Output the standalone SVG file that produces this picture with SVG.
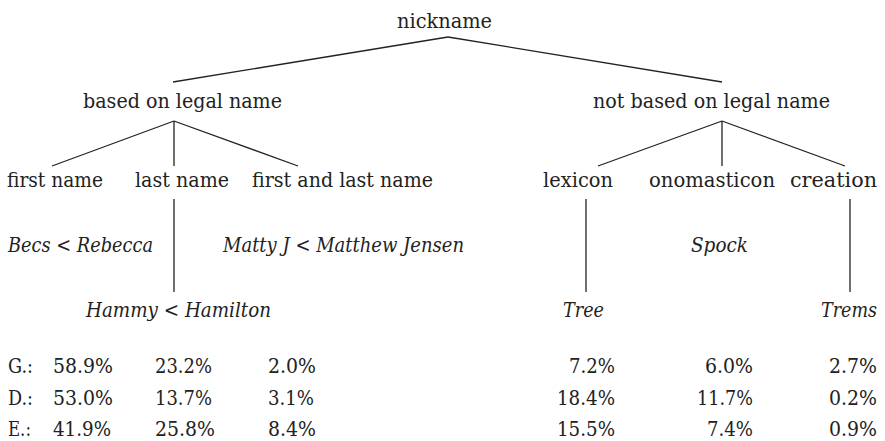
<svg xmlns="http://www.w3.org/2000/svg" width="885" height="441" viewBox="0 0 885 441">
<style>
text{font-family:"DejaVu Serif","Liberation Serif",serif;font-size:20px;fill:#222}
.c{text-anchor:middle}
.r{text-anchor:end}
.i{font-style:italic}
.ln line{stroke:#222;stroke-width:1.3;fill:none}
</style>
<rect width="885" height="441" fill="#fff"/>
<g class="ln" id="connectors">
<line x1="448" y1="37" x2="173" y2="82"/>
<line x1="448" y1="37" x2="722" y2="82"/>
<line x1="174" y1="121" x2="52" y2="166"/>
<line x1="174" y1="121" x2="174" y2="166"/>
<line x1="174" y1="121" x2="298" y2="166"/>
<line x1="722" y1="121" x2="598" y2="166"/>
<line x1="722" y1="121" x2="722" y2="166"/>
<line x1="722" y1="121" x2="845" y2="166"/>
<line x1="174" y1="199" x2="174" y2="292"/>
<line x1="586" y1="199" x2="586" y2="292"/>
<line x1="850" y1="199" x2="850" y2="292"/>
</g>
<g id="nickname"><text class="c" x="444.5" y="28" textLength="95" lengthAdjust="spacingAndGlyphs">nickname</text></g>
<g id="based"><text class="c" x="182.5" y="108" textLength="199" lengthAdjust="spacingAndGlyphs">based on legal name</text></g>
<g id="notbased"><text class="c" x="711.5" y="108" textLength="237" lengthAdjust="spacingAndGlyphs">not based on legal name</text></g>
<g id="firstname"><text class="c" x="55" y="187" textLength="96" lengthAdjust="spacingAndGlyphs">first name</text></g>
<g id="lastname"><text class="c" x="182" y="187" textLength="94" lengthAdjust="spacingAndGlyphs">last name</text></g>
<g id="firstlast"><text class="c" x="342.5" y="187" textLength="181" lengthAdjust="spacingAndGlyphs">first and last name</text></g>
<g id="lexicon"><text class="c" x="578" y="187" textLength="70" lengthAdjust="spacingAndGlyphs">lexicon</text></g>
<g id="onomasticon"><text class="c" x="712" y="187" textLength="126" lengthAdjust="spacingAndGlyphs">onomasticon</text></g>
<g id="creation"><text class="c" x="833.5" y="187" textLength="87" lengthAdjust="spacingAndGlyphs">creation</text></g>
<g id="ex-becs"><text class="i" x="8" y="252" textLength="145" lengthAdjust="spacingAndGlyphs">Becs &lt; Rebecca</text></g>
<g id="ex-matty"><text class="i" x="223" y="252" textLength="241" lengthAdjust="spacingAndGlyphs">Matty J &lt; Matthew Jensen</text></g>
<g id="ex-spock"><text class="i c" x="719.5" y="252" textLength="57" lengthAdjust="spacingAndGlyphs">Spock</text></g>
<g id="ex-hammy"><text class="i c" x="178.5" y="317" textLength="185" lengthAdjust="spacingAndGlyphs">Hammy &lt; Hamilton</text></g>
<g id="ex-tree"><text class="i c" x="583.5" y="317" textLength="41" lengthAdjust="spacingAndGlyphs">Tree</text></g>
<g id="ex-trems"><text class="i c" x="849" y="317" textLength="56" lengthAdjust="spacingAndGlyphs">Trems</text></g>
<g id="stats">
<text x="8" y="373" textLength="25" lengthAdjust="spacingAndGlyphs">G.:</text>
<text x="53" y="373" textLength="60" lengthAdjust="spacingAndGlyphs">58.9%</text>
<text x="155" y="373" textLength="57" lengthAdjust="spacingAndGlyphs">23.2%</text>
<text x="268" y="373" textLength="48" lengthAdjust="spacingAndGlyphs">2.0%</text>
<text class="r" x="615" y="373" textLength="46" lengthAdjust="spacingAndGlyphs">7.2%</text>
<text class="r" x="753" y="373" textLength="48" lengthAdjust="spacingAndGlyphs">6.0%</text>
<text class="r" x="877" y="373" textLength="48" lengthAdjust="spacingAndGlyphs">2.7%</text>
<text x="8" y="405" textLength="25" lengthAdjust="spacingAndGlyphs">D.:</text>
<text x="53" y="405" textLength="60" lengthAdjust="spacingAndGlyphs">53.0%</text>
<text x="155" y="405" textLength="57" lengthAdjust="spacingAndGlyphs">13.7%</text>
<text x="268" y="405" textLength="46" lengthAdjust="spacingAndGlyphs">3.1%</text>
<text class="r" x="615" y="405" textLength="58" lengthAdjust="spacingAndGlyphs">18.4%</text>
<text class="r" x="753" y="405" textLength="56" lengthAdjust="spacingAndGlyphs">11.7%</text>
<text class="r" x="877" y="405" textLength="48" lengthAdjust="spacingAndGlyphs">0.2%</text>
<text x="8" y="436" textLength="23" lengthAdjust="spacingAndGlyphs">E.:</text>
<text x="53" y="436" textLength="58" lengthAdjust="spacingAndGlyphs">41.9%</text>
<text x="155" y="436" textLength="60" lengthAdjust="spacingAndGlyphs">25.8%</text>
<text x="268" y="436" textLength="48" lengthAdjust="spacingAndGlyphs">8.4%</text>
<text class="r" x="615" y="436" textLength="58" lengthAdjust="spacingAndGlyphs">15.5%</text>
<text class="r" x="753" y="436" textLength="46" lengthAdjust="spacingAndGlyphs">7.4%</text>
<text class="r" x="877" y="436" textLength="48" lengthAdjust="spacingAndGlyphs">0.9%</text>
</g>
</svg>
